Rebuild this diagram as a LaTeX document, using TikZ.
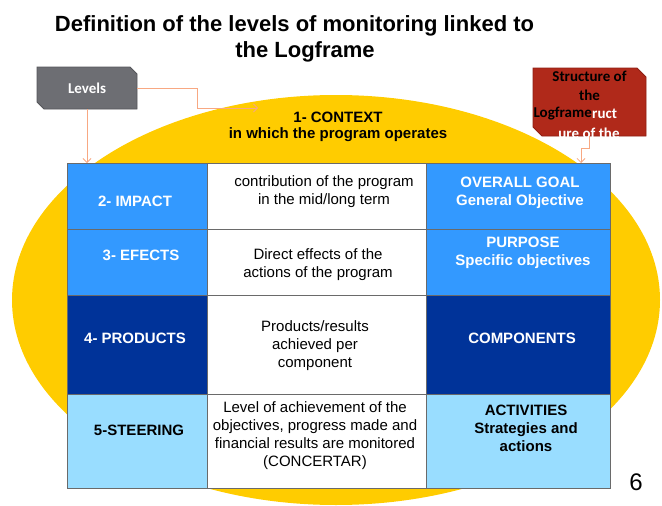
\documentclass[tikz,border=0pt]{standalone}
\usepackage{fontspec}
\setmainfont{Liberation Sans}
\newfontfamily\calib{Carlito}
\usetikzlibrary{arrows.meta}
\definecolor{ctxyellow}{HTML}{FFCC00}
\definecolor{midblue}{HTML}{3399FF}
\definecolor{darkblue}{HTML}{003399}
\definecolor{lightblue}{HTML}{99DDFF}
\definecolor{lvlgray}{HTML}{6D6E73}
\definecolor{lvlgrayd}{HTML}{55565A}
\definecolor{lfred}{HTML}{B0291A}
\definecolor{lfredd}{HTML}{8E2014}
\definecolor{salmon}{HTML}{F8A882}
\definecolor{gridgray}{HTML}{6A6A6A}
\begin{document}
\begin{tikzpicture}[x=1pt,y=-1pt,
  cell/.style={draw=gridgray, line width=0.8pt, inner sep=0pt, outer sep=0pt},
  txt/.style={align=center, inner sep=0pt, font=\fontsize{15}{18}\selectfont},
  btxt/.style={txt, font=\fontsize{15}{18}\selectfont\bfseries},
  tagshape/.style={line width=0.8pt},
  tagnode/.style={rectangle, inner sep=0pt, outer sep=0pt},
  lftxt/.style={inner sep=0pt, font=\calib\bfseries\fontsize{15}{19}\selectfont},
  conn/.style={draw=salmon, line width=0.8pt, -{Straight Barb[length=4pt,width=8pt]}}]
\useasboundingbox (0,0) rectangle (662,506);
% title
\node[anchor=base, font=\fontsize{22}{26}\selectfont\bfseries] (title1) at (294.5,31) {Definition of the levels of monitoring linked to};
\node[anchor=base, font=\fontsize{22}{26}\selectfont\bfseries] (title2) at (305,57) {the Logframe};
% context ellipse
\fill[ctxyellow] (336,300) ellipse [x radius=324, y radius=205];
\node[btxt] (ctx1) at (338,117) {1- CONTEXT};
\node[btxt] (ctx2) at (338,135) {in which the program operates};
% table cells
\node[cell, fill=midblue, minimum width=140pt, minimum height=66pt] (c11) at (137,196) {};
\node[cell, fill=white, minimum width=219pt, minimum height=66pt] (c12) at (316.5,196) {};
\node[cell, fill=midblue, minimum width=184pt, minimum height=66pt] (c13) at (518,196) {};
\node[cell, fill=midblue, minimum width=140pt, minimum height=66pt] (c21) at (137,262) {};
\node[cell, fill=white, minimum width=219pt, minimum height=66pt] (c22) at (316.5,262) {};
\node[cell, fill=midblue, minimum width=184pt, minimum height=66pt] (c23) at (518,262) {};
\node[cell, fill=darkblue, minimum width=140pt, minimum height=99pt] (c31) at (137,344.5) {};
\node[cell, fill=white, minimum width=219pt, minimum height=99pt] (c32) at (316.5,344.5) {};
\node[cell, fill=darkblue, minimum width=184pt, minimum height=99pt] (c33) at (518,344.5) {};
\node[cell, fill=lightblue, minimum width=140pt, minimum height=94pt] (c41) at (137,441) {};
\node[cell, fill=white, minimum width=219pt, minimum height=94pt] (c42) at (316.5,441) {};
\node[cell, fill=lightblue, minimum width=184pt, minimum height=94pt] (c43) at (518,441) {};
% texts row 1
\node[btxt, text=white] (t11) at (135,201) {2- IMPACT};
\node[txt] (t12) at (324,192) {contribution of the program\\in the mid/long term};
\node[btxt, text=white] (t13) at (520,193) {OVERALL GOAL\\General Objective};
% row 2
\node[btxt, text=white] (t21) at (141,255) {3- EFECTS};
\node[txt] (t22) at (318,264.5) {Direct effects of the\\actions of the program};
\node[btxt, text=white] (t23) at (523,253) {PURPOSE\\Specific objectives};
% row 3
\node[btxt, text=white] (t31) at (135,338) {4- PRODUCTS};
\node[txt] (t32) at (315,346) {Products/results\\achieved per\\component};
\node[btxt, text=white] (t33) at (522,338) {COMPONENTS};
% row 4
\node[btxt] (t41) at (139,430) {5-STEERING};
\node[txt] (t42) at (315,436) {Level of achievement of the\\objectives, progress made and\\financial results are monitored\\(CONCERTAR)};
\node[btxt] (t43) at (526,428) {ACTIVITIES\\Strategies and\\actions};
% Levels tag (snipped corners)
\filldraw[tagshape, fill=lvlgray, draw=lvlgrayd] (37,67) -- (130,67) -- (137,74) -- (137,109) -- (44,109) -- (37,102) -- cycle;
\node[tagnode, minimum width=100pt, minimum height=42pt,
      text=white, font=\calib\bfseries\fontsize{15}{19}\selectfont] (levels) at (87,88) {Levels};
% Logframe tag (snipped corners)
\filldraw[tagshape, fill=lfred, draw=lfredd] (533,68) -- (637,68) -- (646,77) -- (646,136) -- (542,136) -- (533,127) -- cycle;
\node[tagnode, minimum width=113pt, minimum height=68pt] (lfbox) at (589.5,102) {};
\node[lftxt] (lf1) at (589.5,76) {Structure of};
\node[lftxt] (lf2) at (589.5,95) {the};
\node[lftxt, anchor=east] (lf3) at (592,114) {Logframe};
\node[lftxt, anchor=west, text=white] (lf3b) at (lf3.east) {ruct};
\node[lftxt, text=white] (lf4) at (589,133) {ure of the};
\node[lftxt, text=white] (lf5) at (597,152) {Logframe};
% connectors
\coordinate (ctxpt) at (258,108);
\draw[conn] (levels.east) -- ++(60,0) |- (ctxpt);
\draw[conn] (levels.south) -- (levels.south |- c11.north);
\coordinate (goaltop) at (581,163);
\draw[conn] (lfbox.south) -- ++(0,12) -| (goaltop);
% page number
\node[font=\fontsize{24}{28}\selectfont] (pnum) at (636,482) {6};
\end{tikzpicture}
\end{document}
